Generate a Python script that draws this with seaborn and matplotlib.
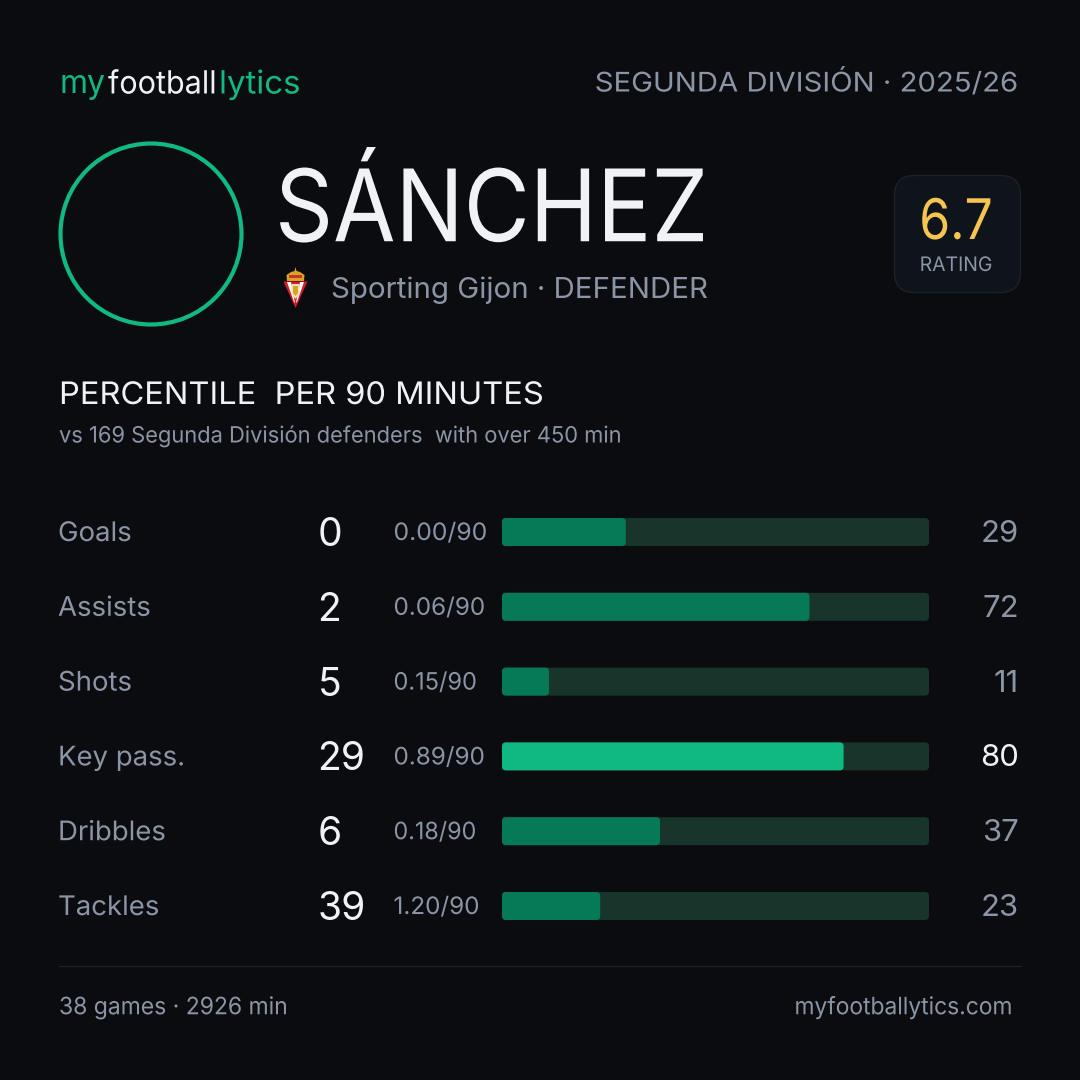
import matplotlib
matplotlib.use("Agg")
import matplotlib.pyplot as plt
from matplotlib.patches import Circle, FancyBboxPatch, Polygon
from matplotlib.patheffects import AbstractPathEffect
from matplotlib.transforms import Affine2D
import pandas as pd
import seaborn as sns

metrics = ["Goals", "Assists", "Shots", "Key pass.", "Dribbles", "Tackles"]
counts = [0, 2, 5, 29, 6, 39]
per90 = ["0.00/90", "0.06/90", "0.15/90", "0.89/90", "0.18/90", "1.20/90"]
percentiles = [29, 72, 11, 80, 37, 23]
full_scale = [100] * 6

BG = "#0a0c10"
GREEN = "#10b981"
DIM_GREEN = "#067a56"
TRACK = "#17352a"
MUTED = "#8b95a5"
WHITE = "#f0f2f5"
FONT = "Inter"
PER90_FIT = [1.03, 1.01, 0.98, 1.01, 0.97, 1.01]

sns.set_theme(style="dark", rc={"figure.facecolor": BG, "axes.facecolor": BG})
plt.rcParams["font.family"] = [FONT, "DejaVu Sans"]

fig = plt.figure(figsize=(10.8, 10.8), dpi=100, facecolor=BG)

# overlay in pixel space
ov = fig.add_axes([0, 0, 1, 1], zorder=2)
ov.set_xlim(0, 1080)
ov.set_ylim(1080, 0)
ov.axis("off")
ov.patch.set_alpha(0)


class HScale(AbstractPathEffect):
    """Horizontal text width adjustment around an anchor x (display px)."""

    def __init__(self, x0, sx):
        super().__init__()
        self.x0, self.sx = x0, sx

    def draw_path(self, renderer, gc, tpath, affine, rgbFace=None):
        extra = Affine2D().translate(-self.x0, 0).scale(self.sx, 1).translate(self.x0, 0)
        renderer.draw_path(gc, tpath, affine + extra, rgbFace)


def T(x, y, s, size, color=WHITE, ha="left", sx=None, **kw):
    t = ov.text(x, y, s, fontsize=size * 0.72, color=color, ha=ha, va="center", **kw)
    if sx is not None:
        t.set_path_effects([HScale(x, sx)])
    return t


# bars
BAR_L, BAR_R = 502, 929
TOP, BOTTOM = 494.6, 943.4
ax = fig.add_axes([BAR_L / 1080, 1 - BOTTOM / 1080, (BAR_R - BAR_L) / 1080, (BOTTOM - TOP) / 1080], zorder=1)
df = pd.DataFrame({"metric": metrics, "pct": percentiles, "full": full_scale})
sns.barplot(data=df, x="full", y="metric", color=TRACK, saturation=1, width=0.374, ax=ax)
n_track = len(ax.patches)
sns.barplot(data=df, x="pct", y="metric", hue="metric", legend=False, saturation=1, width=0.374, ax=ax,
            palette=[GREEN if p >= 80 else DIM_GREEN for p in percentiles])
ax.set_xlim(0, 100)
ax.set_ylim(5.5, -0.5)
ax.axis("off")
ax.patch.set_alpha(0)

x_per_px = 100 / (BAR_R - BAR_L)
y_per_px = 6 / (BOTTOM - TOP)
for k, p in enumerate(list(ax.patches)):
    x, y, w, h = p.get_x(), p.get_y(), p.get_width(), p.get_height()
    c = p.get_facecolor()
    z = 3 if k >= n_track else 2
    p.set_visible(False)
    ax.add_patch(FancyBboxPatch((x, y), w, h, boxstyle=f"round,pad=0,rounding_size={4 * x_per_px}",
                                mutation_aspect=y_per_px / x_per_px, fc=c, ec="none", zorder=z))

# header
T(59, 85, "my", 32, GREEN)
T(108, 85, "football", 32, WHITE, sx=0.955)
T(219, 85, "lytics", 32, GREEN, sx=1.03)
T(1018, 83, "SEGUNDA DIVISIÓN · 2025/26", 27, MUTED, ha="right", sx=1.085)

# player
ov.add_patch(Circle((151, 234), 90.5, fc="none", ec=GREEN, lw=3))
T(275, 214, "SÁNCHEZ", 100, WHITE, sx=0.905)
T(331, 290, "Sporting Gijon · DEFENDER", 29.5, MUTED)

# crest
ov.add_patch(Polygon([(283.5, 281.5), (307.5, 281.5), (295.5, 308)], fc="#d9182b", ec="none"))
ov.add_patch(Polygon([(287, 282), (291, 282), (295, 303), (294, 302)], fc="#ffffff", ec="none"))
ov.add_patch(Polygon([(300, 282), (304, 282), (297, 302), (296, 303)], fc="#ffffff", ec="none"))
ov.add_patch(Polygon([(291.5, 284), (299.5, 284), (299.5, 294), (295.5, 299), (291.5, 294)], fc="#f3e2b0", ec="none"))
ov.add_patch(Polygon([(293, 286), (298, 286), (298, 293), (295.5, 296), (293, 293)], fc="#d9a521", ec="none"))
ov.add_patch(Polygon([(287, 281), (286.5, 275), (291, 272), (294.5, 271), (295.5, 267), (296.5, 271), (300, 272),
                      (304.5, 275), (304, 281)], fc="#d9a521", ec="none"))
ov.add_patch(Polygon([(289, 275), (302, 275), (302, 278), (289, 278)], fc="#c5352a", ec="none"))

# rating
ov.add_patch(FancyBboxPatch((894.5, 175.5), 126, 117, boxstyle="round,pad=0,rounding_size=20",
                            fc="#0f131a", ec="#1c212a", lw=1))
T(956, 224, "6.7", 56, "#f5c451", ha="center", sx=0.89)
T(956, 266, "RATING", 20, MUTED, ha="center", sx=0.97)

# section title
T(59, 396, "PERCENTILE  PER 90 MINUTES", 31, WHITE, sx=1.052)
T(59, 436, "vs 169 Segunda División defenders  with over 450 min", 22.5, MUTED, sx=0.972)

# rows
for i, (m, c, r, p, f) in enumerate(zip(metrics, counts, per90, percentiles, PER90_FIT)):
    yc = 534 + i * 74.8
    T(58, yc, m, 27, MUTED, sx=1.02)
    T(317.5, yc + 1.5, str(c), 39, WHITE)
    T(393.5, yc, r, 24, MUTED, sx=f)
    T(1019, yc, str(p), 31, WHITE if p >= 80 else MUTED, ha="right")

# footer
ov.plot([59, 1021], [965.5, 965.5], color="#1c2027", lw=1)
T(59, 1008, "38 games · 2926 min", 24, MUTED, sx=0.955)
T(1013, 1008, "myfootballytics.com", 24, MUTED, ha="right", sx=0.95)

fig.savefig("out.png", dpi=100, facecolor=BG)
